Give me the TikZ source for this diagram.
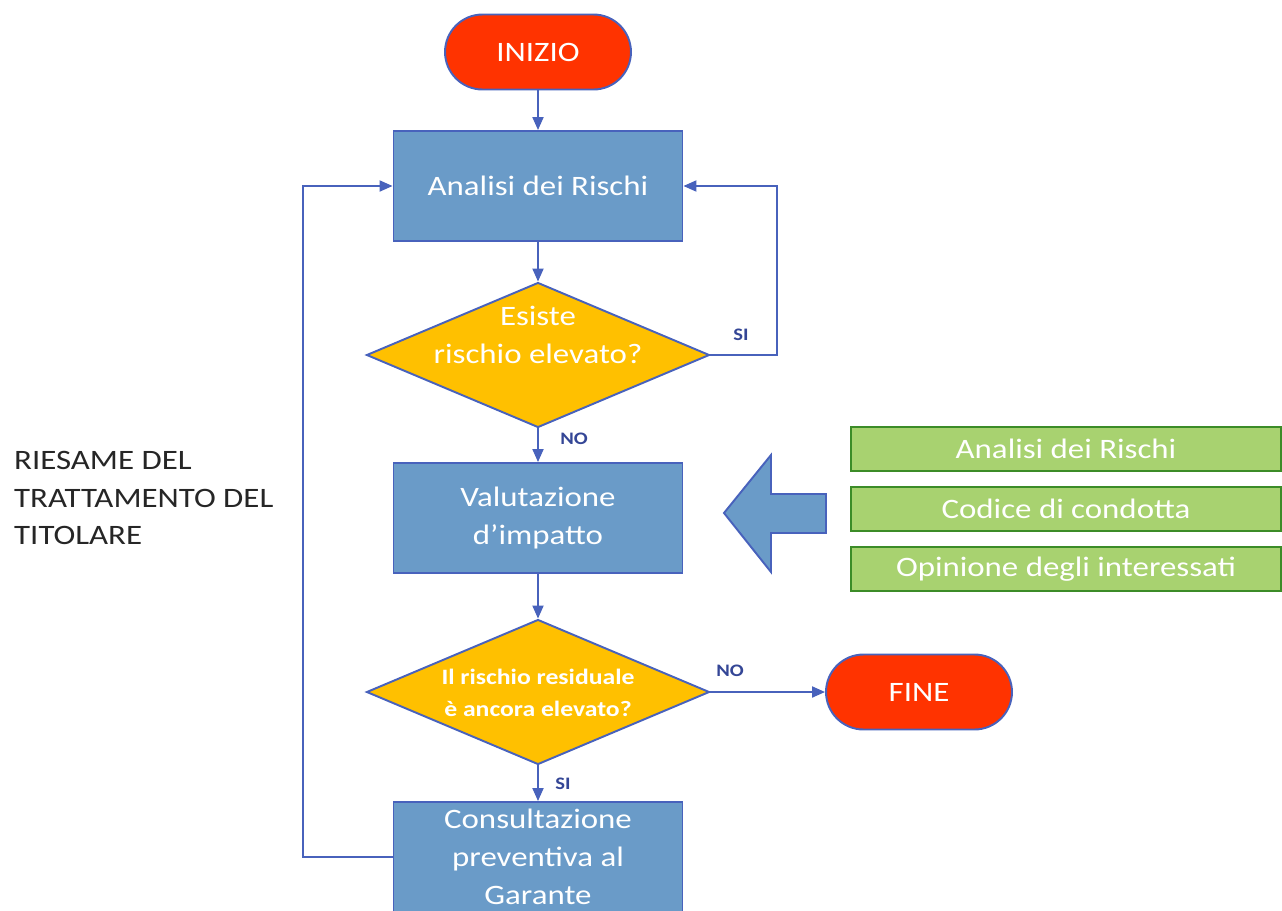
\documentclass[tikz,border=0pt]{standalone}
\usepackage{fontspec}
\setmainfont[FakeStretch=1.17]{Carlito}
\usepackage{xcolor}
\usetikzlibrary{shapes.geometric, arrows.meta, positioning}
\definecolor{boxblue}{RGB}{106,155,200}
\definecolor{lineblue}{RGB}{72,98,188}
\definecolor{decyellow}{RGB}{255,192,0}
\definecolor{termred}{RGB}{255,51,0}
\definecolor{srcgreen}{RGB}{168,210,112}
\definecolor{srcborder}{RGB}{60,140,40}
\definecolor{labelblue}{RGB}{52,70,150}
\definecolor{notegray}{RGB}{38,38,38}

\begin{document}
\begin{tikzpicture}[x=0.02cm, y=-0.02cm,
    process/.style={rectangle, draw=lineblue, fill=boxblue, line width=1.1pt, minimum width=5.78cm, minimum height=2.2cm, inner sep=0pt, align=center, text=white, font=\fontsize{16}{22}\selectfont},
    decision/.style={diamond, draw=lineblue, fill=decyellow, line width=1.1pt, minimum width=6.86cm, minimum height=2.9cm, inner sep=0pt},
    question/.style={align=center, text=white, inner sep=0pt},
    terminal/.style={rectangle, rounded corners=0.75cm, draw=lineblue, fill=termred, line width=1.1pt, minimum width=3.72cm, minimum height=1.5cm, text=white, font=\fontsize{16}{19}\selectfont},
    source/.style={rectangle, draw=srcborder, fill=srcgreen, line width=1.3pt, minimum width=8.6cm, minimum height=0.88cm, inner sep=0pt, text=white, font=\fontsize{16}{19}\selectfont},
    answer/.style={text=labelblue, font=\bfseries\fontsize{10}{12}\selectfont},
    arrow/.style={-{Triangle[length=2.6mm, width=2.2mm]}, lineblue, line width=1.1pt}
]
\useasboundingbox (0,0) rectangle (1282,910);

\node[terminal] (inizio) at (538,52) {INIZIO};
\node[process] (analisi) at (538,186) {Analisi dei Rischi};
\node[decision] (esiste) at (538,355) {};
\node[question, font=\fontsize{16}{22}\selectfont] (esistetxt) at (538,335) {Esiste\\rischio elevato?};
\node[process] (valutazione) at (538,518) {Valutazione\\d’impatto};
\node[decision] (residuo) at (538,692) {};
\node[question, font=\bfseries\fontsize{12.5}{18}\selectfont] (residuotxt) at (538,693) {Il rischio residuale\\è ancora elevato?};
\node[process, font=\fontsize{16}{21.5}\selectfont] (consulta) at (538,857) {Consultazione\\preventiva al\\Garante};
\node[terminal] (fine) at (919,692) {FINE};

\node[source] (srcrischi) at (1066,449) {Analisi dei Rischi};
\node[source] (srccodice) at (1066,509) {Codice di condotta};
\node[source] (srcopinione) at (1066,569) {Opinione degli interessati};

\fill[boxblue, draw=lineblue, line width=1.1pt] (724,513) -- (771,455) -- (771,494) -- (826,494)
    -- (826,533) -- (771,533) -- (771,572) -- cycle;

\node[anchor=west, align=left, text=notegray, font=\fontsize{16}{21.3}\selectfont] (riesame) at (8,498)
    {RIESAME DEL\\TRATTAMENTO DEL\\TITOLARE};

\draw[arrow] (inizio) -- (analisi);
\draw[arrow] (analisi) -- (esiste);
\draw[arrow] (esiste) -- (valutazione);
\draw[arrow] (valutazione) -- (residuo);
\draw[arrow] (residuo) -- (consulta);
\draw[arrow] (residuo) -- (fine);
\draw[arrow] (esiste.east) -- ++(67,0) |- (analisi.east);
\draw[arrow] (consulta.west) -- ++(-90,0) |- (analisi.west);

\node[answer] (siloop) at (741,335) {SI};
\node[answer] (noval) at (574,439) {NO};
\node[answer] (nofine) at (730,671) {NO};
\node[answer] (sicons) at (563,784) {SI};

\end{tikzpicture}
\end{document}
